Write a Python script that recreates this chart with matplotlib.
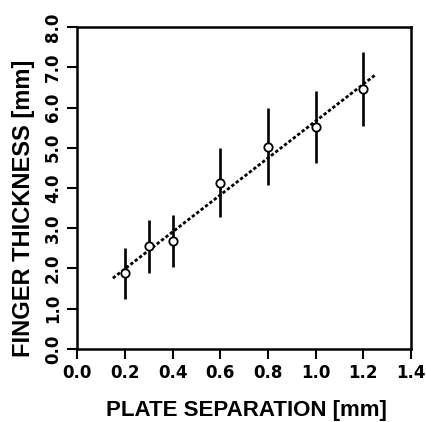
import numpy as np
import matplotlib
matplotlib.use('Agg')
import matplotlib.pyplot as plt

# measured points (plate separation vs finger thickness)
separation = [0.2, 0.3, 0.4, 0.6, 0.8, 1.0, 1.2]
thickness = [1.88, 2.55, 2.68, 4.13, 5.03, 5.52, 6.47]
thickness_err = [0.64, 0.66, 0.64, 0.86, 0.95, 0.89, 0.92]

# fitted line endpoints
fit_x = [0.15, 1.25]
fit_y = [1.76, 6.81]

xticks = [0.0, 0.2, 0.4, 0.6, 0.8, 1.0, 1.2, 1.4]
yticks = [0.0, 1.0, 2.0, 3.0, 4.0, 5.0, 6.0, 7.0, 8.0]

plt.rcParams['font.family'] = ['Liberation Sans', 'DejaVu Sans']
plt.rcParams['font.weight'] = 'bold'

fig = plt.figure(figsize=(4.26, 4.22), dpi=100)
ax = fig.add_axes([0.181, 0.173, 0.784, 0.763])

ax.plot(fit_x, fit_y, color='black', lw=2.0, linestyle=(0, (1.2, 0.8)), zorder=2)
ax.errorbar(separation, thickness, yerr=thickness_err, fmt='none',
            ecolor='black', elinewidth=1.9, capsize=0, zorder=3)
ax.plot(separation, thickness, 'o', ms=6, mfc='white', mec='black', mew=1.3, zorder=4)

ax.set_xlim(0, 1.4)
ax.set_ylim(0, 8)
ax.set_xticks(xticks)
ax.set_yticks(yticks)
tick_font = dict(family='DejaVu Sans', size=12, weight='bold')
ax.set_xticklabels([f'{t:.1f}' for t in xticks], fontdict=tick_font)
ax.set_yticklabels([f'{t:.1f}' for t in yticks], fontdict=tick_font,
                   rotation=90, va='center')
ax.tick_params(direction='out', length=7, width=1.5, pad=4)

for sp in ax.spines.values():
    sp.set_linewidth(1.8)

ax.set_xlabel('PLATE SEPARATION [mm]', fontsize=16, fontweight='bold')
ax.set_ylabel('FINGER THICKNESS [mm]', fontsize=17, fontweight='bold')
ax.xaxis.set_label_coords(0.506, -0.158)
ax.yaxis.set_label_coords(-0.126, 0.438)

fig.savefig('out.png', dpi=100)
